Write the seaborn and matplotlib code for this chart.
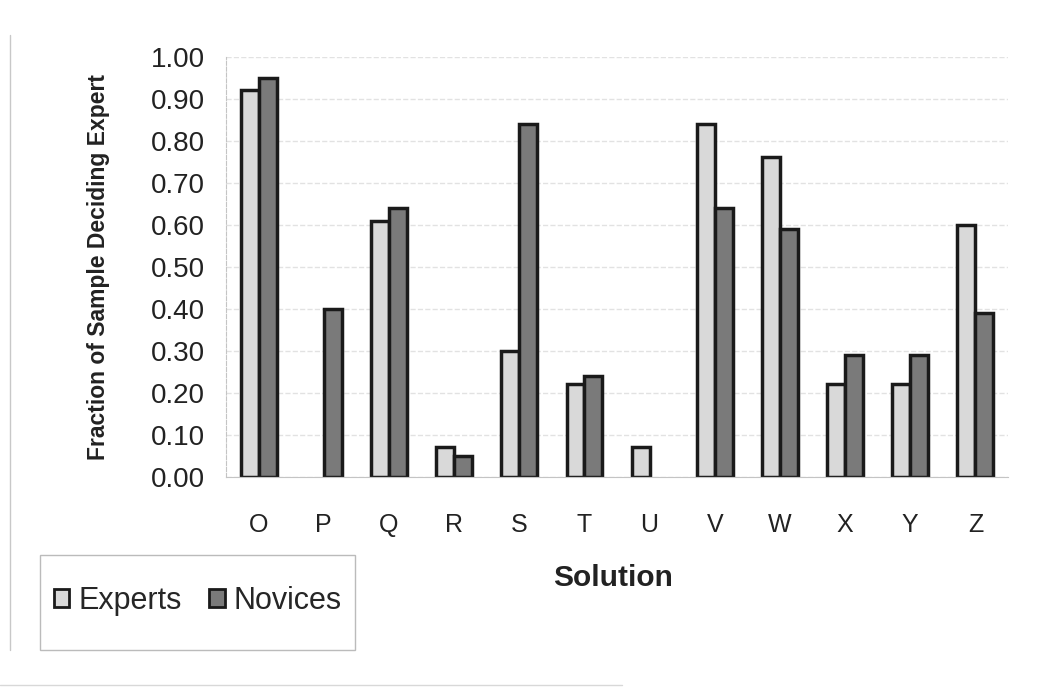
import numpy as np
import pandas as pd
import matplotlib.pyplot as plt
import seaborn as sns
from matplotlib.ticker import FormatStrFormatter
from matplotlib.lines import Line2D
from matplotlib.patches import Rectangle

solutions = ['O', 'P', 'Q', 'R', 'S', 'T', 'U', 'V', 'W', 'X', 'Y', 'Z']
# nan = no bar drawn for that group
experts = [0.92, np.nan, 0.61, 0.07, 0.30, 0.22, 0.07, 0.84, 0.76, 0.22, 0.22, 0.60]
novices = [0.95, 0.40, 0.64, 0.05, 0.84, 0.24, np.nan, 0.64, 0.59, 0.29, 0.29, 0.39]

df = pd.DataFrame({'Solution': solutions * 2,
                   'Fraction': experts + novices,
                   'Group': ['Experts'] * len(solutions) + ['Novices'] * len(solutions)})

sns.set_style('white')
plt.rcParams['font.family'] = ['Liberation Sans', 'DejaVu Sans']

fig = plt.figure(figsize=(10.37, 6.91), dpi=100)
ax = fig.add_axes([0.218, 0.31, 0.754, 0.608])

pal = {'Experts': '#d9d9d9', 'Novices': '#7a7a7a'}
sns.barplot(data=df, x='Solution', y='Fraction', hue='Group', palette=pal,
            hue_order=['Experts', 'Novices'], width=0.55, edgecolor='#1a1a1a',
            linewidth=2.5, saturation=1, ax=ax, legend=False)

ax.set_ylim(0, 1.0)
ax.set_yticks([i / 10 for i in range(11)])
ax.yaxis.set_major_formatter(FormatStrFormatter('%.2f'))
ax.grid(axis='y', color='#e2e2e2', linewidth=1, linestyle='--')
ax.set_axisbelow(True)
for s in ['top', 'right']:
    ax.spines[s].set_visible(False)
ax.spines['left'].set_color('#c4c4c4')
ax.spines['left'].set_linestyle('--')
ax.spines['bottom'].set_color('#c4c4c4')
ax.tick_params(axis='x', labelsize=18, colors='#222222', length=0, pad=26)
ax.tick_params(axis='y', labelsize=20, colors='#222222', length=0, pad=15)
ax.set_ylabel('Fraction of Sample Deciding Expert', fontsize=16.5, fontweight='bold',
              color='#222222')
ax.yaxis.set_label_coords(-0.148, 0.5)
ax.set_xlabel('Solution', fontsize=21.5, fontweight='bold', color='#222222', va='center')
ax.xaxis.set_label_coords(0.495, -0.24)

# legend box drawn by hand so it hugs the entries like the original
fig.add_artist(Rectangle((40 / 1037, 1 - 650 / 691), 315 / 1037, 95 / 691,
                         fill=False, edgecolor='#bbbbbb', linewidth=1))
handles = [plt.Rectangle((0, 0), 1, 1, facecolor=pal[g], edgecolor='#1a1a1a', linewidth=2)
           for g in ['Experts', 'Novices']]
fig.legend(handles, ['Experts', 'Novices'], loc='center left',
           bbox_to_anchor=(54 / 1037, 1 - 601 / 691), ncol=2, fontsize=22,
           frameon=False, handlelength=0.5, handleheight=0.5, handletextpad=0.3,
           columnspacing=0.9, borderpad=0, borderaxespad=0)

# faint scan border on the left and bottom
fig.add_artist(Line2D([0.01, 0.01], [0.06, 0.95], color='#c8c8c8', linewidth=1))
fig.add_artist(Line2D([0.0, 0.6], [0.008, 0.008], color='#d8d8d8', linewidth=1))

fig.savefig('out.png', dpi=100)
